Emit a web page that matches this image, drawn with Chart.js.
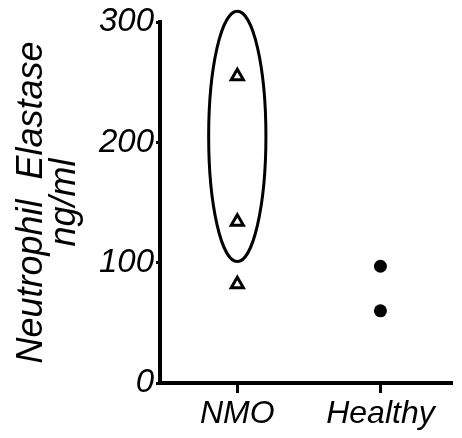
<!DOCTYPE html>
<html>
<head>
<meta charset="utf-8">
<script src="https://cdn.jsdelivr.net/npm/chart.js@4/dist/chart.umd.min.js"></script>
<style>
	html, body { margin: 0; padding: 0; background: #fff; }
	#wrap { width: 462px; height: 438px; }
</style>
</head>
<body>
<div id="wrap"><canvas id="elastaseChart"></canvas></div>
<script>
const groups = ["NMO", "Healthy"];
const nmoValues = [255, 134, 82];
const healthyValues = [97, 60];
const yTicks = [0, 100, 200, 300];
// ellipse around the two upper NMO points: centre [group, value], radius [group units, value units]
const ellipseCentre = [0, 205];
const ellipseRadius = [0.2, 104];

const font = "'Liberation Sans', Arial, sans-serif";

const ellipsePlugin = {
	id: "ellipse",
	afterDatasetsDraw(chart) {
		const { ctx, scales: { x, y } } = chart;
		const cx = x.getPixelForValue(ellipseCentre[0]);
		const cy = y.getPixelForValue(ellipseCentre[1]);
		const rx = Math.abs(x.getPixelForValue(ellipseCentre[0] + ellipseRadius[0]) - cx);
		const ry = Math.abs(y.getPixelForValue(ellipseCentre[1] + ellipseRadius[1]) - cy);
		ctx.save();
		ctx.beginPath();
		ctx.ellipse(cx, cy, rx, ry, 0, 0, Math.PI * 2);
		ctx.lineWidth = 3;
		ctx.strokeStyle = "#000";
		ctx.stroke();
		ctx.restore();
	},
};

new Chart(document.getElementById("elastaseChart"), {
	type: "scatter",
	data: {
		datasets: [
			{
				label: "NMO",
				data: nmoValues.map(v => ({ x: 0, y: v })),
				pointStyle: "triangle",
				pointRadius: 7,
				borderColor: "#000",
				backgroundColor: "#fff",
				borderWidth: 3,
			},
			{
				label: "Healthy",
				data: healthyValues.map(v => ({ x: 1, y: v })),
				pointStyle: "circle",
				pointRadius: 6.5,
				borderColor: "#000",
				backgroundColor: "#000",
				borderWidth: 0,
			},
		],
	},
	options: {
		responsive: true,
		maintainAspectRatio: false,
		animation: false,
		layout: { padding: { top: 22, right: 4, left: 0, bottom: 0 } },
		plugins: {
			legend: { display: false },
			tooltip: { enabled: false },
		},
		scales: {
			x: {
				type: "linear",
				min: -0.54,
				max: 1.5,
				afterBuildTicks: scale => {
					scale.ticks = groups.map((g, i) => ({ value: i }));
				},
				afterFit: scale => {
					scale.height = 55;
				},
				ticks: {
					callback: v => groups[v],
					color: "#000",
					font: { family: font, size: 32, style: "italic" },
					padding: 2,
					maxRotation: 0,
				},
				grid: {
					drawOnChartArea: false,
					tickLength: 10,
					tickWidth: 3,
					color: "#000",
				},
				border: { color: "#000", width: 4 },
			},
			y: {
				min: 0,
				max: 300,
				afterBuildTicks: scale => {
					scale.ticks = yTicks.map(v => ({ value: v }));
				},
				afterFit: scale => {
					scale.width = 160;
				},
				ticks: {
					color: "#000",
					font: { family: font, size: 33, style: "italic" },
					padding: 2,
				},
				grid: {
					drawOnChartArea: false,
					tickLength: 4,
					tickWidth: 3,
					color: "#000",
				},
				border: { color: "#000", width: 4 },
				title: {
					display: true,
					text: ["Neutrophil  Elastase", "ng/ml"],
					color: "#000",
					font: { family: font, size: 36, style: "italic", lineHeight: 0.92 },
					padding: { top: 15, bottom: 0 },
				},
			},
		},
	},
	plugins: [ellipsePlugin],
});
</script>
</body>
</html>
